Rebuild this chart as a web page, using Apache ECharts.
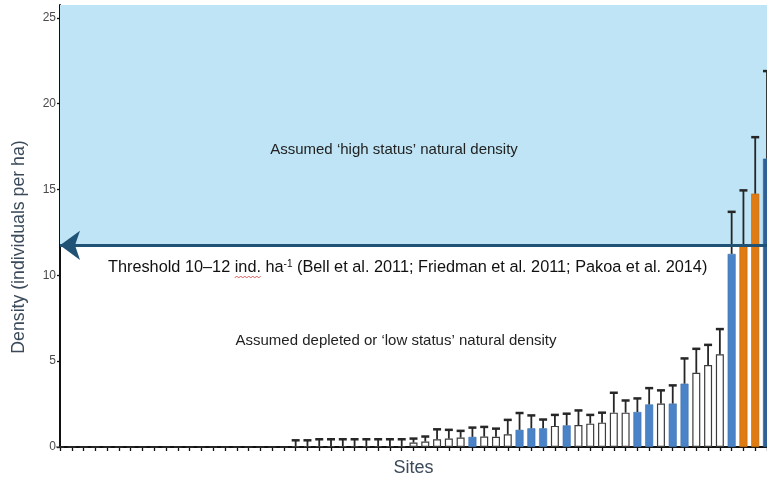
<!DOCTYPE html>
<html>
<head>
<meta charset="utf-8">
<script src="https://cdn.jsdelivr.net/npm/echarts@6/dist/echarts.min.js"></script>
<style>
  html, body { margin: 0; padding: 0; background: #fff; }
  #chart { width: 767px; height: 482px; }
</style>
</head>
<body>
<div id="chart"></div>
<script>
// --- data ---
var sites = [];
for (var i = 1; i <= 61; i++) sites.push('Site ' + i);

// mean density per site (ind. per ha)
var density = [
  0, 0, 0, 0, 0, 0, 0, 0, 0, 0,
  0, 0, 0, 0, 0, 0, 0, 0, 0, 0,
  0.05, 0.05, 0.05, 0.05, 0.05, 0.05, 0.05, 0.05, 0.05, 0.05,
  0.26, 0.32, 0.45, 0.49, 0.55, 0.59, 0.61, 0.59, 0.74, 1.0,
  1.09, 1.09, 1.23, 1.26, 1.28, 1.36, 1.42, 2.0, 2.0, 2.04,
  2.48, 2.53, 2.53, 3.69, 4.32, 4.77, 5.4, 11.25, 11.8, 14.76,
  16.8
];
// top of the error bar
var upper = [
  0, 0, 0, 0, 0, 0, 0, 0, 0, 0,
  0, 0, 0, 0, 0, 0, 0, 0, 0, 0,
  0.39, 0.39, 0.45, 0.45, 0.45, 0.45, 0.45, 0.45, 0.45, 0.45,
  0.49, 0.61, 1.03, 1.0, 0.94, 1.13, 1.17, 1.07, 1.58, 1.98,
  1.84, 1.6, 1.87, 1.94, 2.13, 1.87, 2.0, 3.16, 2.71, 2.83,
  3.43, 3.3, 3.59, 5.16, 5.72, 5.95, 6.87, 13.7, 14.95, 18.05,
  21.9
];
// bar colour group: W white, B blue, O orange, N navy
var group = [
  'W','W','W','W','W','W','W','W','W','W',
  'W','W','W','W','W','W','W','W','W','W',
  'W','W','W','W','W','W','W','W','W','W',
  'W','W','W','W','W','B','W','W','W','B',
  'B','B','W','B','W','W','W','W','W','B',
  'B','W','B','B','W','W','W','B','O','O',
  'N'
];
var threshold = 11.75;
var yTicks = [0, 5, 10, 15, 20, 25];

var fills = {
  W: { color: '#ffffff', borderColor: '#3c3c3c', borderWidth: 1.2 },
  B: { color: '#4a83c8', borderColor: '#3f72ad', borderWidth: 0.6 },
  O: { color: '#e07b12', borderColor: '#b9650e', borderWidth: 0.6 },
  N: { color: '#2f6196', borderColor: '#2f6196', borderWidth: 0.6 }
};

var font = 'Arial, "Liberation Sans", sans-serif';
var threshSize = 16.3;

var barData = density.map(function (v, i) {
  return { value: v, itemStyle: fills[group[i]] };
});
var errData = [];
for (var k = 0; k < density.length; k++) {
  if (upper[k] > density[k]) errData.push([k, density[k], upper[k]]);
}

// spell-check squiggle under "ind." (measured from the text itself)
var mctx = document.createElement('canvas').getContext('2d');
mctx.font = threshSize + 'px ' + font;
var sqStart = 108 + mctx.measureText('Threshold 10\u201312 ').width;
var sqEnd = sqStart + mctx.measureText('ind.').width;
var squiggle = [];
for (var sx = sqStart, up = false; sx <= sqEnd; sx += 2, up = !up) {
  squiggle.push([sx, up ? 276 : 278]);
}

var chart = echarts.init(document.getElementById('chart'));

chart.setOption({
  animation: false,
  grid: { left: 60, top: 5, width: 708, bottom: 33 },
  xAxis: {
    type: 'category',
    data: sites,
    boundaryGap: false,
    name: 'Sites',
    nameLocation: 'middle',
    nameGap: 12,
    nameTextStyle: { fontFamily: font, fontSize: 18, color: '#3b4a5a', verticalAlign: 'top' },
    axisLine: { lineStyle: { color: '#111', width: 2 } },
    axisTick: { interval: 0, length: 4, lineStyle: { color: '#111', width: 1.3 } },
    axisLabel: { show: false },
    splitLine: { show: false }
  },
  yAxis: {
    type: 'value',
    min: 0,
    max: 25.75,
    axisLine: { show: true, lineStyle: { color: '#111', width: 2 } },
    axisTick: { show: true, length: 3, customValues: yTicks, lineStyle: { color: '#111', width: 1.3 } },
    axisLabel: { customValues: yTicks, margin: 4, fontFamily: font, fontSize: 12, color: '#4a4a4a' },
    splitLine: { show: false }
  },
  graphic: [
    {
      type: 'text', x: 19, y: 247, rotation: Math.PI / 2,
      style: {
        text: 'Density (individuals per ha)', fontFamily: font, fontSize: 17.7,
        fill: '#3b4a5a', align: 'center', verticalAlign: 'middle'
      }
    },
    {
      type: 'text', x: 394, y: 150, z: 10,
      style: {
        text: 'Assumed \u2018high status\u2019 natural density', fontFamily: font, fontSize: 15,
        fill: '#222', align: 'center', verticalAlign: 'middle'
      }
    },
    {
      type: 'text', x: 108, y: 268, z: 10,
      style: {
        text: 'Threshold 10\u201312 ind. ha{sup|-1} (Bell et al. 2011; Friedman et al. 2011; Pakoa et al. 2014)',
        fontFamily: font, fontSize: threshSize, fill: '#111', align: 'left', verticalAlign: 'middle',
        lineHeight: 18,
        rich: { sup: { fontFamily: font, fontSize: 10, fill: '#111', verticalAlign: 'top', lineHeight: 18 } }
      }
    },
    {
      type: 'polyline', z: 10,
      shape: { points: squiggle },
      style: { stroke: '#d23a3a', lineWidth: 0.8, fill: null }
    },
    {
      type: 'text', x: 396, y: 341, z: 10,
      style: {
        text: 'Assumed depleted or \u2018low status\u2019 natural density', fontFamily: font, fontSize: 15,
        fill: '#222', align: 'center', verticalAlign: 'middle'
      }
    }
  ],
  series: [
    {
      // background zone and threshold arrow
      type: 'line',
      data: [],
      z: 1,
      silent: true,
      markArea: {
        silent: true,
        itemStyle: { color: '#bee4f5' },
        data: [[{ yAxis: threshold }, { yAxis: 25.75 }]]
      },
      markLine: {
        silent: true,
        symbol: ['arrow', 'none'],
        symbolSize: [22, 20],
        label: { show: false },
        lineStyle: { color: '#1f5275', width: 3, type: 'solid' },
        data: [{ yAxis: threshold }]
      }
    },
    {
      type: 'bar',
      data: barData,
      barWidth: 8,
      clip: false,
      z: 3
    },
    {
      type: 'custom',
      z: 4,
      clip: false,
      data: errData,
      renderItem: function (params, api) {
        var base = api.coord([api.value(0), api.value(1)]);
        var top = api.coord([api.value(0), api.value(2)]);
        var half = 4;
        return {
          type: 'group',
          children: [
            { type: 'line', shape: { x1: base[0], y1: base[1], x2: top[0], y2: top[1] },
              style: { stroke: '#262626', lineWidth: 1.8 } },
            { type: 'line', shape: { x1: top[0] - half, y1: top[1], x2: top[0] + half, y2: top[1] },
              style: { stroke: '#262626', lineWidth: 2.5 } }
          ]
        };
      }
    }
  ]
});
</script>
</body>
</html>
